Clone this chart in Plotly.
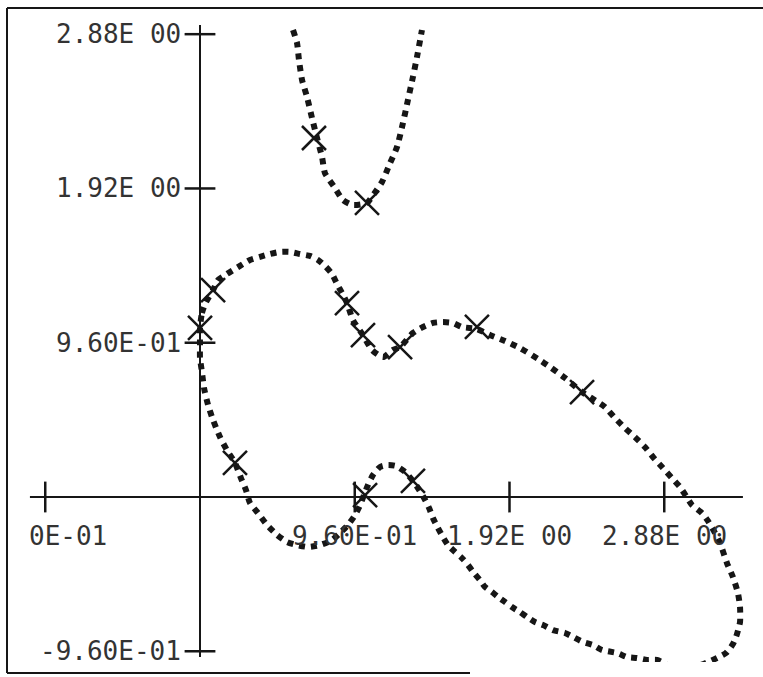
import plotly.graph_objects as go

# ---- data ----
x_tick_vals = [-0.96, 0.96, 1.92, 2.88]
x_tick_text = ["0E-01", "9.60E-01", "1.92E 00", "2.88E 00"]
y_tick_vals = [2.88, 1.92, 0.96, -0.96]
y_tick_text = ["2.88E 00", "1.92E 00", "9.60E-01", "-9.60E-01"]

# upper branch
upper_x = [0.577, 0.602, 0.614, 0.633, 0.664, 0.695, 0.726, 0.757, 0.775, 0.837, 0.887,
           0.949, 1.036, 1.079, 1.129, 1.179, 1.222, 1.259, 1.290, 1.321, 1.346, 1.377]
upper_y = [2.906, 2.825, 2.719, 2.595, 2.489, 2.358, 2.234, 2.116, 2.016, 1.923, 1.848,
           1.817, 1.830, 1.886, 1.960, 2.078, 2.178, 2.327, 2.471, 2.614, 2.738, 2.906]
upper_mark_x = [0.707, 1.036]
upper_mark_y = [2.234, 1.830]

# closed loop
loop_x = [0.000, 0.012, 0.037, 0.081, 0.112, 0.167, 0.248, 0.310, 0.372, 0.434, 0.496,
          0.558, 0.620, 0.682, 0.732, 0.782, 0.819, 0.850, 0.881, 0.912, 0.949, 1.011,
          1.067, 1.135, 1.197, 1.241, 1.321, 1.383, 1.445, 1.507, 1.569, 1.625, 1.718,
          1.799, 1.892, 1.985, 2.097, 2.171, 2.264, 2.370, 2.438, 2.512, 2.574, 2.636,
          2.698, 2.760, 2.810, 2.872, 2.928, 2.978, 3.015, 3.052, 3.114, 3.151, 3.195,
          3.226, 3.269, 3.306, 3.337, 3.350, 3.350, 3.331, 3.306, 3.263, 3.207, 3.151,
          3.071, 2.978, 2.897, 2.835, 2.773, 2.711, 2.649, 2.587, 2.494, 2.438, 2.376,
          2.314, 2.264, 2.190, 2.128, 2.078, 2.029, 1.985, 1.935, 1.892, 1.849, 1.811,
          1.768, 1.737, 1.694, 1.663, 1.625, 1.582, 1.538, 1.507, 1.476, 1.445, 1.421,
          1.390, 1.352, 1.321, 1.272, 1.216, 1.166, 1.117, 1.073, 1.042, 1.017, 0.993,
          0.962, 0.918, 0.868, 0.819, 0.744, 0.670, 0.602, 0.540, 0.478, 0.416, 0.360,
          0.310, 0.285, 0.254, 0.217, 0.167, 0.124, 0.081, 0.050, 0.025, 0.012, 0.000,
          0.000, 0.000]
loop_y = [1.052, 1.145, 1.213, 1.288, 1.350, 1.388, 1.438, 1.475, 1.494, 1.512, 1.525,
          1.525, 1.512, 1.500, 1.475, 1.431, 1.388, 1.326, 1.269, 1.207, 1.101, 1.008,
          0.915, 0.871, 0.915, 0.933, 1.021, 1.058, 1.083, 1.089, 1.083, 1.058, 1.045,
          1.008, 0.971, 0.927, 0.859, 0.809, 0.741, 0.653, 0.610, 0.560, 0.492, 0.429,
          0.373, 0.311, 0.249, 0.180, 0.118, 0.062, 0.006, -0.050, -0.100, -0.149, -0.224,
          -0.286, -0.411, -0.498, -0.597, -0.685, -0.778, -0.853, -0.915, -0.971, -1.002, -1.027,
          -1.058, -1.070, -1.045, -1.014, -1.014, -1.002, -0.996, -0.971, -0.952, -0.921, -0.902,
          -0.871, -0.846, -0.828, -0.797, -0.778, -0.747, -0.716, -0.685, -0.653, -0.622, -0.591,
          -0.560, -0.517, -0.467, -0.423, -0.380, -0.342, -0.299, -0.249, -0.193, -0.131, -0.068,
          -0.006, 0.056, 0.100, 0.156, 0.193, 0.199, 0.187, 0.137, 0.075, 0.012, -0.050,
          -0.112, -0.174, -0.224, -0.268, -0.299, -0.311, -0.299, -0.280, -0.236, -0.174, -0.100,
          -0.037, 0.044, 0.118, 0.212, 0.292, 0.373, 0.479, 0.573, 0.678, 0.778, 0.865,
          0.946, 1.052]
loop_mark_x = [0.000, 0.081, 0.912, 1.011, 1.241, 1.718, 2.370, 1.321, 1.024, 0.217]
loop_mark_y = [1.052, 1.288, 1.207, 1.008, 0.933, 1.058, 0.653, 0.100, 0.012, 0.212]

# axis extents
x_axis_span = [-1.055, 3.368]
y_axis_span = [-0.996, 2.937]

INK = "#161616"
FONT = dict(family="DejaVu Sans Mono", size=26, color="#333333")
dots = dict(color=INK, width=6, dash="6px,6px", shape="spline", smoothing=0.6)

fig = go.Figure()

# axes lines
fig.add_trace(go.Scatter(x=x_axis_span, y=[0, 0], mode="lines",
                         line=dict(color=INK, width=2), hoverinfo="skip"))
fig.add_trace(go.Scatter(x=[0, 0], y=y_axis_span, mode="lines",
                         line=dict(color=INK, width=2), hoverinfo="skip"))
# cross ticks
fig.add_trace(go.Scatter(x=x_tick_vals, y=[0] * len(x_tick_vals), mode="markers",
                         marker=dict(symbol="line-ns", size=22, line=dict(color=INK, width=2.5))))
fig.add_trace(go.Scatter(x=[0] * len(y_tick_vals), y=y_tick_vals, mode="markers",
                         marker=dict(symbol="line-ew", size=22, line=dict(color=INK, width=2.5))))

# curves
fig.add_trace(go.Scatter(x=upper_x, y=upper_y, mode="lines", line=dots))
fig.add_trace(go.Scatter(x=loop_x, y=loop_y, mode="lines", line=dots))
fig.add_trace(go.Scatter(x=upper_mark_x + loop_mark_x, y=upper_mark_y + loop_mark_y,
                         mode="markers",
                         marker=dict(symbol="x-thin", size=24, line=dict(color=INK, width=2.5))))

annotations = []
for v, t in zip(x_tick_vals, x_tick_text):
    if v < 0:
        annotations.append(dict(x=v, y=0, xref="x", yref="y", text=t, showarrow=False,
                                xanchor="left", yanchor="top", xshift=-18, yshift=-22, font=FONT))
    else:
        annotations.append(dict(x=v, y=0, xref="x", yref="y", text=t, showarrow=False,
                                xanchor="center", yanchor="top", yshift=-22, font=FONT))
for v, t in zip(y_tick_vals, y_tick_text):
    annotations.append(dict(x=0, y=v, xref="x", yref="y", text=t, showarrow=False,
                            xanchor="right", yanchor="middle", xshift=-17, font=FONT))

W, H, B = 763, 677, 15
PH = H - B
shapes = [
    dict(type="line", xref="paper", yref="paper", x0=7 / W, x1=7 / W,
         y0=(PH - 8) / PH, y1=(PH - 673) / PH, line=dict(color=INK, width=2)),
    dict(type="line", xref="paper", yref="paper", x0=7 / W, x1=1.0,
         y0=(PH - 8) / PH, y1=(PH - 8) / PH, line=dict(color=INK, width=2)),
    dict(type="line", xref="paper", yref="paper", x0=7 / W, x1=470 / W,
         y0=(PH - 673) / PH, y1=(PH - 673) / PH, line=dict(color=INK, width=2)),
]

fig.update_layout(
    width=W, height=H, autosize=False,
    margin=dict(l=0, r=0, t=0, b=B, pad=0),
    paper_bgcolor="white", plot_bgcolor="white",
    showlegend=False,
    xaxis=dict(range=[-200 / 161.2, 563 / 161.2], visible=False, fixedrange=True),
    yaxis=dict(range=[-165 / 160.7, 497 / 160.7], visible=False, fixedrange=True),
    annotations=annotations,
    shapes=shapes,
)

fig.write_html("out.html", config={"displayModeBar": False},
               post_script="document.body.style.margin='0px';document.body.style.overflow='hidden';")
